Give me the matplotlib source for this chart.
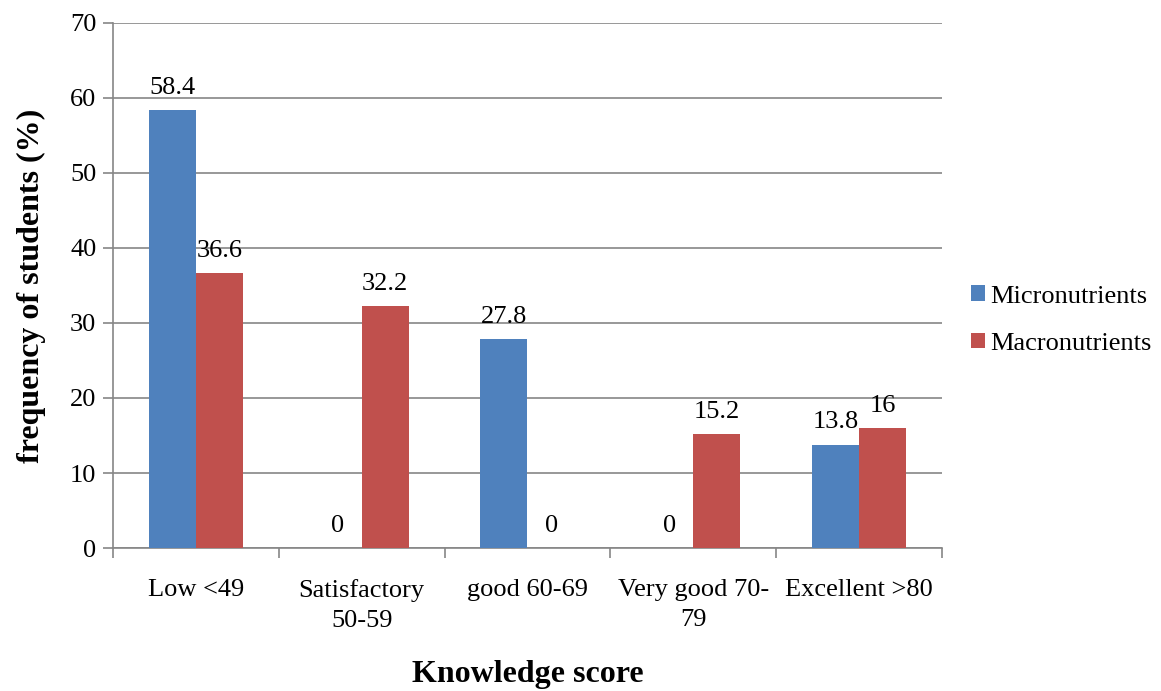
import numpy as np
import matplotlib.pyplot as plt

# -------- DATA --------
categories = ["Low <49", "Satisfactory\n50-59", "good 60-69", "Very good 70-\n79", "Excellent >80"]
micro = [58.4, 0, 27.8, 0, 13.8]
macro = [36.6, 32.2, 0, 15.2, 16]
series_names = ["Micronutrients", "Macronutrients"]

# -------- STYLE --------
BLUE = "#4f81bd"
RED = "#c0504d"
GRID = "#868686"
FS = 19
plt.rcParams["font.family"] = ["Liberation Serif", "DejaVu Serif"]

fig = plt.figure(figsize=(11.61, 6.91), dpi=100)
ax = fig.add_axes([0.0973, 0.2069, 0.714, 0.760])

x = np.arange(len(categories))
w = 0.285
b1 = ax.bar(x - w / 2, micro, w, color=BLUE, label=series_names[0], zorder=3)
b2 = ax.bar(x + w / 2, macro, w, color=RED, label=series_names[1], zorder=3)

for bars in (b1, b2):
    for rect in bars:
        h = rect.get_height()
        ax.annotate(f"{h:g}", (rect.get_x() + rect.get_width() / 2, h),
                    xytext=(0, 8), textcoords="offset points",
                    ha="center", va="bottom", fontsize=FS)

ax.set_xlim(-0.5, len(categories) - 0.5)
ax.set_ylim(0, 70)
ax.set_yticks(range(0, 71, 10))
ax.yaxis.grid(True, color=GRID, linewidth=1.2, zorder=0)
ax.set_axisbelow(True)

# category labels centred, tick marks on the boundaries
ax.set_xticks(x)
ax.set_xticklabels(categories, fontsize=FS, linespacing=1.5)
ax.tick_params(axis="x", length=0, pad=22)
ax.set_xticks(np.arange(-0.5, len(categories)), minor=True)
ax.tick_params(axis="x", which="minor", length=7, color=GRID, width=1.2)
ax.tick_params(axis="y", labelsize=FS, length=7, color=GRID, width=1.2, pad=5)

for side in ("top", "right"):
    ax.spines[side].set_visible(False)
for side in ("left", "bottom"):
    ax.spines[side].set_color(GRID)
    ax.spines[side].set_linewidth(1.2)

ax.set_xlabel("Knowledge score", fontsize=23, fontweight="bold", labelpad=20)
ax.set_ylabel("frequency of students (%)", fontsize=23, fontweight="bold", labelpad=17)

ax.legend(loc="center left", bbox_to_anchor=(1.006, 0.434), frameon=False,
          fontsize=FS, handlelength=0.53, handleheight=0.53, handletextpad=0.23,
          labelspacing=0.95)

fig.savefig("out.png", dpi=100)
